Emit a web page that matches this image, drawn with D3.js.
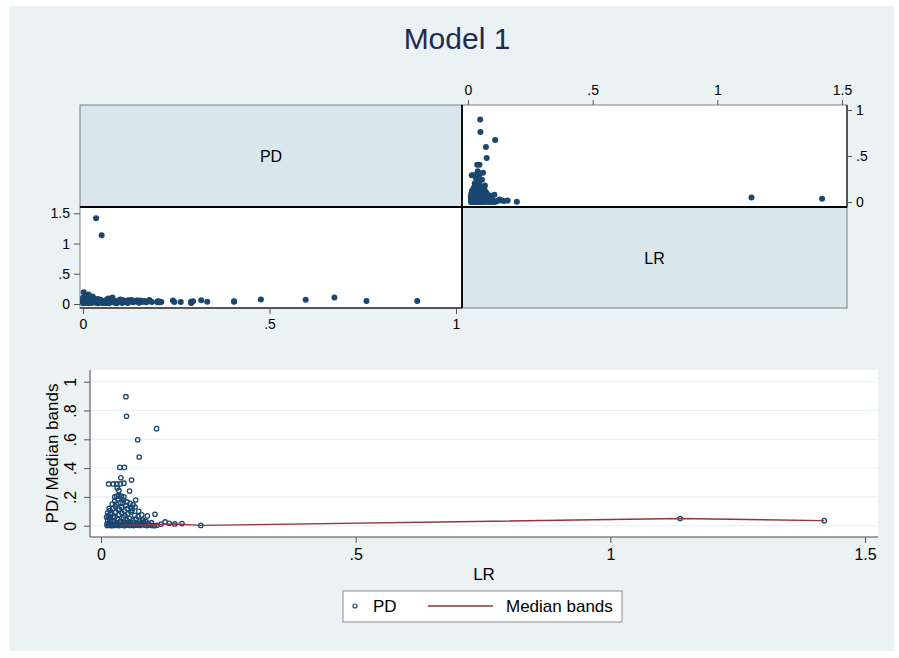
<!DOCTYPE html>
<html>
<head>
<meta charset="utf-8">
<script src="https://cdn.jsdelivr.net/npm/d3@7"></script>
<style>
  html, body { margin: 0; padding: 0; background: #ffffff; }
  svg { display: block; font-family: "Liberation Sans", Arial, sans-serif; }
</style>
</head>
<body>
<svg id="chart" width="899" height="658"></svg>
<script>
// Loss ratio (LR) and probability of default (PD) for each observation
const lr = [
  0.049, 0.050, 0.109, 0.072, 0.075, 0.037, 0.046, 0.039, 0.060, 0.015,
  0.024, 0.031, 0.038, 0.045, 0.032, 0.035, 0.056, 0.027, 0.031, 0.035,
  0.040, 0.045, 0.068, 0.049, 0.058, 0.060, 0.106, 0.091, 0.126, 0.145,
  0.159, 0.196, 1.137, 1.420,
  0.012, 0.015, 0.018, 0.020, 0.022, 0.025, 0.028, 0.030, 0.033, 0.036,
  0.040, 0.043, 0.046, 0.050, 0.053, 0.057, 0.060, 0.064, 0.068, 0.072,
  0.076, 0.080, 0.085, 0.090, 0.095, 0.100, 0.105, 0.110,
  0.012, 0.016, 0.021, 0.026, 0.031, 0.037, 0.042, 0.048, 0.054, 0.059,
  0.065, 0.071, 0.078, 0.084, 0.092, 0.099, 0.118, 0.134,
  0.013, 0.017, 0.022, 0.027, 0.033, 0.038, 0.044, 0.050, 0.056, 0.062,
  0.069, 0.075, 0.082, 0.088,
  0.014, 0.019, 0.024, 0.029, 0.035, 0.041, 0.047, 0.053, 0.059, 0.066,
  0.073, 0.080,
  0.018, 0.023, 0.028, 0.034, 0.040, 0.046, 0.052, 0.061, 0.067, 0.074,
  0.022, 0.027, 0.033, 0.039, 0.044, 0.051, 0.057, 0.063,
  0.011, 0.013, 0.016, 0.019, 0.025, 0.030, 0.036, 0.043
];
const pd = [
  0.896, 0.760, 0.674, 0.597, 0.477, 0.405, 0.405, 0.333, 0.317, 0.290,
  0.290, 0.290, 0.290, 0.295, 0.262, 0.245, 0.241, 0.200, 0.205, 0.210,
  0.205, 0.200, 0.178, 0.140, 0.128, 0.122, 0.079, 0.068, 0.026, 0.012,
  0.015, 0.002, 0.050, 0.035,
  0.001, 0.004, 0.002, 0.006, 0.000, 0.003, 0.008, 0.002, 0.005, 0.001,
  0.007, 0.003, 0.000, 0.004, 0.009, 0.002, 0.005, 0.001, 0.006, 0.003,
  0.002, 0.008, 0.004, 0.001, 0.005, 0.002, 0.000, 0.003,
  0.015, 0.022, 0.012, 0.028, 0.018, 0.025, 0.014, 0.020, 0.027, 0.016,
  0.023, 0.012, 0.019, 0.026, 0.014, 0.021, 0.011, 0.017,
  0.040, 0.052, 0.035, 0.058, 0.045, 0.032, 0.055, 0.042, 0.050, 0.036,
  0.047, 0.033, 0.040, 0.030,
  0.070, 0.085, 0.065, 0.095, 0.078, 0.090, 0.068, 0.082, 0.095, 0.072,
  0.064, 0.075,
  0.105, 0.120, 0.135, 0.110, 0.128, 0.102, 0.118, 0.108, 0.130, 0.100,
  0.150, 0.170, 0.185, 0.160, 0.178, 0.165, 0.155, 0.145,
  0.060, 0.090, 0.120, 0.045, 0.060, 0.150, 0.115, 0.160
];

// Median bands: band medians of LR and PD
const bandLR = [0.037, 0.078, 0.145, 0.196, 1.137, 1.420];
const bandPD = [0.004, 0.005, 0.012, 0.002, 0.050, 0.035];

// Tick values
const lrTicks = [0, 0.5, 1, 1.5];
const pdTicks = [0, 0.5, 1];
const pdBandTicks = [0, 0.2, 0.4, 0.6, 0.8, 1];

const variables = ["PD", "LR"];

const NAVY = "#1a476f";
const MAROON = "#90353b";
const BG = "#eaf2f3";
const LABEL_BG = "#d9e6eb";
const TEXT = "#000000";
const fmt = v => (v === 0 ? "0" : String(v).replace(/^0\./, "."));

const points = lr.map((v, i) => ({ lr: v, pd: pd[i] }));
const bands = bandLR.map((v, i) => ({ lr: v, pd: bandPD[i] }));

const svg = d3.select("#chart");

// page background
svg.append("rect").attr("x", 9).attr("y", 6).attr("width", 885).attr("height", 645)
  .attr("fill", BG);

// title
svg.append("text").attr("x", 457).attr("y", 49).attr("text-anchor", "middle")
  .attr("font-size", 30).attr("fill", "#1e2a4e").text("Model 1");

// ---------- scatter matrix ----------
const mx = [80, 462, 847];
const my = [105, 207, 308];

// cell backgrounds
const cells = [
  { c: 0, r: 0, fill: LABEL_BG, label: variables[0] },
  { c: 1, r: 0, fill: "#ffffff" },
  { c: 0, r: 1, fill: "#ffffff" },
  { c: 1, r: 1, fill: LABEL_BG, label: variables[1] }
];
const mat = svg.append("g");
mat.selectAll("rect.cell").data(cells).join("rect")
  .attr("class", "cell")
  .attr("x", d => mx[d.c]).attr("y", d => my[d.r])
  .attr("width", d => mx[d.c + 1] - mx[d.c]).attr("height", d => my[d.r + 1] - my[d.r])
  .attr("fill", d => d.fill).attr("stroke", "#7f7f7f").attr("stroke-width", 1);
mat.selectAll("text.cellLabel").data(cells.filter(d => d.label)).join("text")
  .attr("class", "cellLabel")
  .attr("x", d => (mx[d.c] + mx[d.c + 1]) / 2)
  .attr("y", d => (my[d.r] + my[d.r + 1]) / 2 + 6)
  .attr("text-anchor", "middle").attr("font-size", 16).attr("fill", TEXT)
  .text(d => d.label);

// upper-right cell: PD (y) against LR (x)
const urX = d3.scaleLinear().domain([0, 1.5]).range([468, 842]);
const urY = d3.scaleLinear().domain([0, 1]).range([202, 110]);
// lower-left cell: LR (y) against PD (x)
const llX = d3.scaleLinear().domain([0, 1]).range([83, 456]);
const llY = d3.scaleLinear().domain([0, 1.5]).range([304, 213.3]);

mat.append("g").selectAll("circle").data(points).join("circle")
  .attr("cx", d => urX(d.lr)).attr("cy", d => urY(d.pd)).attr("r", 3)
  .attr("fill", NAVY);
mat.append("g").selectAll("circle").data(points).join("circle")
  .attr("cx", d => llX(d.pd)).attr("cy", d => llY(d.lr)).attr("r", 3)
  .attr("fill", NAVY);

// heavy separators between cells
mat.append("line").attr("x1", mx[1]).attr("x2", mx[1]).attr("y1", my[0]).attr("y2", my[2])
  .attr("stroke", "#000").attr("stroke-width", 1.8);
mat.append("line").attr("x1", mx[0]).attr("x2", mx[2]).attr("y1", my[1]).attr("y2", my[1])
  .attr("stroke", "#000").attr("stroke-width", 1.8);
mat.append("line").attr("x1", mx[2]).attr("x2", mx[2]).attr("y1", my[0]).attr("y2", my[1])
  .attr("stroke", "#333").attr("stroke-width", 1.5);
mat.append("line").attr("x1", mx[0]).attr("x2", mx[1]).attr("y1", my[2]).attr("y2", my[2])
  .attr("stroke", "#333").attr("stroke-width", 1.5);

function styleAxis(g, size) {
  g.select(".domain").remove();
  g.selectAll(".tick line").attr("stroke", "#555").attr("stroke-width", 1);
  g.selectAll(".tick text").attr("fill", TEXT).attr("font-size", size)
    .attr("font-family", '"Liberation Sans", Arial, sans-serif');
}

// matrix axes
mat.append("g").attr("transform", `translate(0,${my[0]})`)
  .call(d3.axisTop(urX).tickValues(lrTicks).tickFormat(fmt).tickSize(5).tickPadding(5))
  .call(g => styleAxis(g, 14));
mat.append("g").attr("transform", `translate(${mx[2]},0)`)
  .call(d3.axisRight(urY).tickValues(pdTicks).tickFormat(fmt).tickSize(5).tickPadding(4))
  .call(g => styleAxis(g, 14));
mat.append("g").attr("transform", `translate(0,${my[2]})`)
  .call(d3.axisBottom(llX).tickValues(pdTicks).tickFormat(fmt).tickSize(6).tickPadding(5))
  .call(g => styleAxis(g, 14));
mat.append("g").attr("transform", `translate(${mx[0]},0)`)
  .call(d3.axisLeft(llY).tickValues(lrTicks).tickFormat(fmt).tickSize(6).tickPadding(4))
  .call(g => styleAxis(g, 14));

// ---------- PD against LR with median bands ----------
const plot = { left: 90, right: 878, top: 370, bottom: 537 };
const bx = d3.scaleLinear().domain([0, 1.5]).range([101, 865]);
const by = d3.scaleLinear().domain([0, 1]).range([525.7, 381.7]);

const bottom = svg.append("g");
bottom.append("rect").attr("x", plot.left).attr("y", plot.top)
  .attr("width", plot.right - plot.left).attr("height", plot.bottom - plot.top)
  .attr("fill", "#ffffff");
// horizontal grid
bottom.append("g").selectAll("line").data(pdBandTicks).join("line")
  .attr("x1", plot.left).attr("x2", plot.right)
  .attr("y1", d => by(d)).attr("y2", d => by(d))
  .attr("stroke", BG).attr("stroke-width", 1.2);

// axes
const yAx = bottom.append("g").attr("transform", `translate(${plot.left},0)`)
  .call(d3.axisLeft(by).tickValues(pdBandTicks).tickFormat(fmt).tickSize(6).tickPadding(0))
  .call(g => styleAxis(g, 16));
yAx.selectAll(".tick text")
  .attr("text-anchor", "middle").attr("x", 0).attr("dy", 0)
  .attr("transform", "translate(-14,0) rotate(-90)");
bottom.append("line").attr("x1", plot.left).attr("x2", plot.left)
  .attr("y1", plot.top).attr("y2", plot.bottom).attr("stroke", "#444").attr("stroke-width", 1);

bottom.append("g").attr("transform", `translate(0,${plot.bottom})`)
  .call(d3.axisBottom(bx).tickValues(lrTicks).tickFormat(fmt).tickSize(6).tickPadding(6))
  .call(g => styleAxis(g, 16));
bottom.append("line").attr("x1", plot.left).attr("x2", plot.right)
  .attr("y1", plot.bottom).attr("y2", plot.bottom).attr("stroke", "#444").attr("stroke-width", 1);

// axis titles
bottom.append("text").attr("x", (plot.left + plot.right) / 2).attr("y", 580)
  .attr("text-anchor", "middle").attr("font-size", 17).attr("fill", TEXT).text("LR");
bottom.append("text").attr("transform", `translate(58,${(plot.top + plot.bottom) / 2}) rotate(-90)`)
  .attr("text-anchor", "middle").attr("font-size", 17).attr("fill", TEXT).text("PD/ Median bands");

// hollow markers
bottom.append("g").selectAll("circle").data(points).join("circle")
  .attr("cx", d => bx(d.lr)).attr("cy", d => by(d.pd)).attr("r", 2.2)
  .attr("fill", "none").attr("stroke", NAVY).attr("stroke-width", 1.3);

// median band line
bottom.append("path").datum(bands)
  .attr("d", d3.line().x(d => bx(d.lr)).y(d => by(d.pd)))
  .attr("fill", "none").attr("stroke", MAROON).attr("stroke-width", 1.4);

// legend
const leg = svg.append("g");
leg.append("rect").attr("x", 343).attr("y", 591).attr("width", 279).attr("height", 31)
  .attr("fill", "#ffffff").attr("stroke", "#8a8a8a").attr("stroke-width", 1);
leg.append("circle").attr("cx", 355).attr("cy", 606).attr("r", 2)
  .attr("fill", "none").attr("stroke", NAVY).attr("stroke-width", 1.2);
leg.append("text").attr("x", 373).attr("y", 612).attr("font-size", 17).attr("fill", TEXT).text("PD");
leg.append("line").attr("x1", 428).attr("x2", 493).attr("y1", 606).attr("y2", 606)
  .attr("stroke", MAROON).attr("stroke-width", 1.4);
leg.append("text").attr("x", 506).attr("y", 612).attr("font-size", 17).attr("fill", TEXT).text("Median bands");
</script>
</body>
</html>
